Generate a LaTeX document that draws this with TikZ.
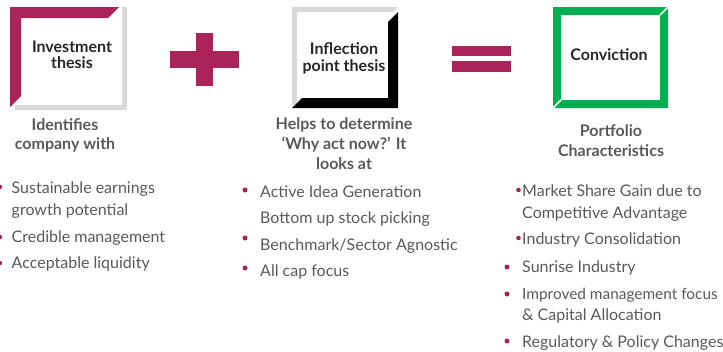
\documentclass[tikz,border=0pt]{standalone}
\usepackage{fontspec}
\setmainfont{Lato}
\definecolor{berry}{RGB}{170,36,90}
\definecolor{leaf}{RGB}{0,176,80}
\definecolor{shadegray}{RGB}{217,217,217}
\definecolor{boxtext}{RGB}{38,38,38}
\definecolor{bodytext}{RGB}{89,89,89}
\tikzset{
	boxlabel/.style={anchor=base, inner sep=0pt, text=boxtext, font=\fontsize{16}{16}\selectfont\bfseries},
	headlabel/.style={anchor=base, inner sep=0pt, text=bodytext, font=\fontsize{16}{19}\selectfont\bfseries},
	itemlabel/.style={anchor=base west, inner sep=0pt, text=bodytext, font=\fontsize{16}{22}\selectfont},
	dot/.style={fill=berry}
}

\begin{document}
\begin{tikzpicture}[x=1pt, y=-1pt]
		%%%%% START %%%%%
		\useasboundingbox (0, 0) rectangle (723, 351);
		
		% investment thesis frame
		\fill[shadegray] (122, 7) -- (127, 7) -- (127, 110) -- (15, 110) -- (15, 105) -- (122, 105) -- cycle;
		\fill[berry] (10, 107) -- (10, 7) -- (119, 7) -- (108, 18) -- (21, 18) -- (21, 96) -- cycle;
		\node[boxlabel] (inv1) at (72, 52) {Investment};
		\node[boxlabel] (inv2) at (72, 68) {thesis};
		
		% plus
		\fill[berry] (170, 51) rectangle (239, 68);
		\fill[berry] (196, 33) rectangle (213, 86);
		
		% inflection point frame
		\fill[shadegray] (292, 108) -- (292, 7) -- (398, 7) -- (393, 12) -- (297, 12) -- (297, 103) -- cycle;
		\fill[black] (398, 12) -- (398, 108) -- (292, 108) -- (302, 98) -- (388, 98) -- (388, 22) -- cycle;
		\node[boxlabel] (inf1) at (344, 54) {Inflection};
		\node[boxlabel] (inf2) at (344, 71) {point thesis};
		
		% equals
		\fill[berry] (452, 46) rectangle (511, 56);
		\fill[berry] (452, 61) rectangle (511, 72);
		
		% conviction frame
		\fill[leaf] (553, 108) -- (553, 7) -- (668, 7) -- (660, 15) -- (561, 15) -- (561, 100) -- cycle;
		\fill[leaf] (668, 7) -- (668, 108) -- (553, 108) -- (561, 100) -- (660, 100) -- (660, 15) -- cycle;
		\draw[white, line width=1.6pt] (553, 108) -- (561, 100);
		\draw[white, line width=1.6pt] (668, 7) -- (660, 15);
		\node[boxlabel] (con) at (609, 60) {Conviction};
		
		% headings
		\node[headlabel] (idf1) at (65, 130) {Identifies};
		\node[headlabel] (idf2) at (65, 149) {company with};
		\node[headlabel] (hlp1) at (344, 129) {Helps to determine};
		\node[headlabel] (hlp2) at (344, 149) {‘Why act now?’ It};
		\node[headlabel] (hlp3) at (344, 169) {looks at};
		\node[headlabel] (prt1) at (611, 136) {Portfolio};
		\node[headlabel] (prt2) at (611, 156) {Characteristics};
		
		% first column
		\fill[dot] (0, 187) circle (2.2);
		\fill[dot] (0, 237) circle (2.2);
		\fill[dot] (0, 263) circle (2.2);
		\node[itemlabel] (sus1) at (11.5, 193) {Sustainable earnings};
		\node[itemlabel] (sus2) at (11.5, 215) {growth potential};
		\node[itemlabel] (crd) at (11.5, 242) {Credible management};
		\node[itemlabel] (liq) at (11.5, 268) {Acceptable liquidity};
		
		% second column
		\fill[dot] (245, 190) circle (2.5);
		\fill[dot] (245, 238) circle (2.5);
		\fill[dot] (245, 268) circle (2.5);
		\node[itemlabel] (act) at (260, 197) {Active Idea Generation};
		\node[itemlabel] (btm) at (260, 223) {Bottom up stock picking};
		\node[itemlabel] (bch) at (260, 250) {Benchmark/Sector Agnostic};
		\node[itemlabel] (cap) at (260, 276) {All cap focus};
		
		% third column
		\fill[dot] (518.5, 190) circle (2.3);
		\fill[dot] (518.5, 238) circle (2.3);
		\fill[dot] (507, 267) circle (2.5);
		\fill[dot] (507, 294) circle (2.5);
		\fill[dot] (507, 341) circle (2.5);
		\node[itemlabel] (mkt1) at (522, 196) {Market Share Gain due to};
		\node[itemlabel] (mkt2) at (522, 218) {Competitive Advantage};
		\node[itemlabel] (ind) at (522, 244) {Industry Consolidation};
		\node[itemlabel] (sun) at (522, 272) {Sunrise Industry};
		\node[itemlabel, font=\fontsize{15.4}{22}\selectfont] (imp1) at (522, 299) {Improved management focus};
		\node[itemlabel] (imp2) at (522, 320) {\& Capital Allocation};
		\node[itemlabel] (reg) at (522, 347) {Regulatory \& Policy Changes};
		
		%%%%% END %%%%%
	\end{tikzpicture}
\end{document}
